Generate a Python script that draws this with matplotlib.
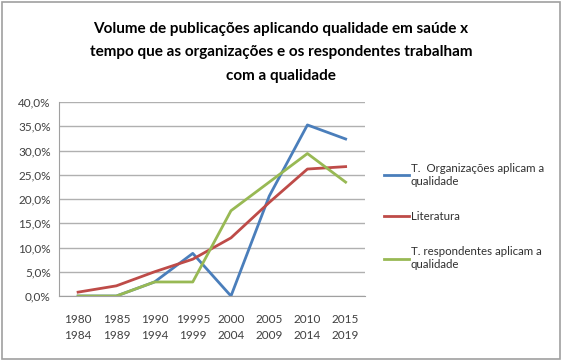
import matplotlib.pyplot as plt
from matplotlib.patches import Rectangle
from matplotlib.ticker import FuncFormatter

periodos = ["1980\n1984", "1985\n1989", "1990\n1994", "19995\n1999", "2000\n2004",
            "2005\n2009", "2010\n2014", "2015\n2019"]
organizacoes = [0.0, 0.0, 2.9, 8.8, 0.0, 20.6, 35.3, 32.4]
literatura = [0.8, 2.1, 5.0, 7.6, 12.0, 19.3, 26.2, 26.7]
respondentes = [0.0, 0.0, 2.9, 2.9, 17.6, 23.5, 29.4, 23.5]

plt.rcParams['font.family'] = ['Lato', 'DejaVu Sans']

fig = plt.figure(figsize=(5.62, 3.61), dpi=100)
ax = fig.add_axes([0.105, 0.180, 0.544, 0.537])

x = list(range(len(periodos)))
ax.plot(x, organizacoes, color='#4A7EBB', lw=2, label='T.  Organizações aplicam a\nqualidade')
ax.plot(x, literatura, color='#BE4B48', lw=2, label='Literatura')
ax.plot(x, respondentes, color='#98B954', lw=2, label='T. respondentes aplicam a\nqualidade')

ax.set_xlim(-0.5, len(periodos) - 0.5)
ax.set_ylim(0, 40)
ax.set_yticks(range(0, 41, 5))
ax.yaxis.set_major_formatter(FuncFormatter(lambda v, p: f"{v:.1f}%".replace('.', ',')))
ax.set_xticks(x)
ax.set_xticklabels(periodos, linespacing=1.5)
ax.tick_params(length=0, labelsize=8.5, colors='#404040', pad=6)
ax.tick_params(axis='x', pad=13)
ax.grid(axis='y', color='#B0B0B0', lw=1)
ax.set_axisbelow(True)
for s in ['top', 'right']:
    ax.spines[s].set_visible(False)
for s in ['left', 'bottom']:
    ax.spines[s].set_color('#A0A0A0')

fig.legend(loc='center left', bbox_to_anchor=(0.665, 0.40), frameon=False,
           fontsize=8.3, handlelength=2.2, handletextpad=0.1, labelspacing=2.1,
           labelcolor='#303030')

fig.text(0.5, 0.855, "Volume de publicações aplicando qualidade em saúde x\n"
         "tempo que as organizações e os respondentes trabalham\ncom a qualidade",
         ha='center', va='center', fontsize=11, fontweight='bold', linespacing=1.85)

fig.patches.append(Rectangle((0.004, 0.006), 0.992, 0.988, transform=fig.transFigure,
                             fill=False, edgecolor='#A0A0A0', lw=1.2))

fig.savefig('out.png', dpi=100)
